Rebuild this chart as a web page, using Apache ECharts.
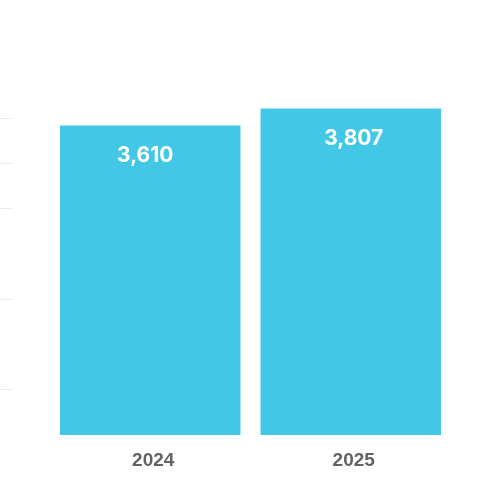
<!DOCTYPE html>
<html>
<head>
<meta charset="utf-8">
<script src="https://cdn.jsdelivr.net/npm/echarts@6/dist/echarts.min.js"></script>
<style>
  html, body { margin: 0; padding: 0; background: #fff; }
  #chart { width: 500px; height: 500px; }
</style>
</head>
<body>
<div id="chart"></div>
<script>
var years = ['2024', '2025'];
var totals = [3610, 3807];
var guideLevels = [500, 1500, 2500, 3000, 3500]; // short grey marks on the left edge

window.onload = function () {
    var myChart = echarts.init(document.getElementById('chart'));
    var labelShift = [-5, 3]; // value labels are not quite centred in the original
    var option = {
        animation: false,
        grid: [
            { left: 50, right: 49, top: 92, bottom: 65 },
            { left: 0, width: 12, top: 72.6, bottom: 65 }
        ],
        xAxis: [
            {
                type: 'category',
                gridIndex: 0,
                data: years,
                axisLine: { show: false },
                axisTick: { show: false },
                axisLabel: {
                    margin: 16,
                    color: '#636363',
                    fontSize: 19,
                    fontWeight: 'bold',
                    fontFamily: 'Liberation Sans',
                    padding: [0, 0, 0, 6]
                }
            },
            { type: 'value', gridIndex: 1, min: 0, max: 1, show: false }
        ],
        yAxis: [
            { type: 'value', gridIndex: 0, min: 0, max: 4000, show: false },
            { type: 'value', gridIndex: 1, min: 0, max: 4000, show: false }
        ],
        series: [
            {
                type: 'bar',
                xAxisIndex: 0,
                yAxisIndex: 0,
                data: totals.map(function (v, i) {
                    return { value: v, label: { offset: [labelShift[i], 0] } };
                }),
                barCategoryGap: '10%',
                itemStyle: { color: '#42c7e6' },
                label: {
                    show: true,
                    position: 'insideTop',
                    distance: 20,
                    color: '#ffffff',
                    fontSize: 21,
                    fontWeight: 'bold',
                    fontFamily: 'Inter',
                    formatter: function (p) {
                        return p.value.toLocaleString('en-US');
                    }
                }
            },
            {
                type: 'line',
                xAxisIndex: 1,
                yAxisIndex: 1,
                data: [],
                silent: true,
                markLine: {
                    silent: true,
                    symbol: 'none',
                    label: { show: false },
                    lineStyle: { color: '#ececec', width: 1, type: 'solid' },
                    data: guideLevels.map(function (v) { return { yAxis: v }; })
                }
            }
        ]
    };
    myChart.setOption(option);
};
</script>
</body>
</html>
